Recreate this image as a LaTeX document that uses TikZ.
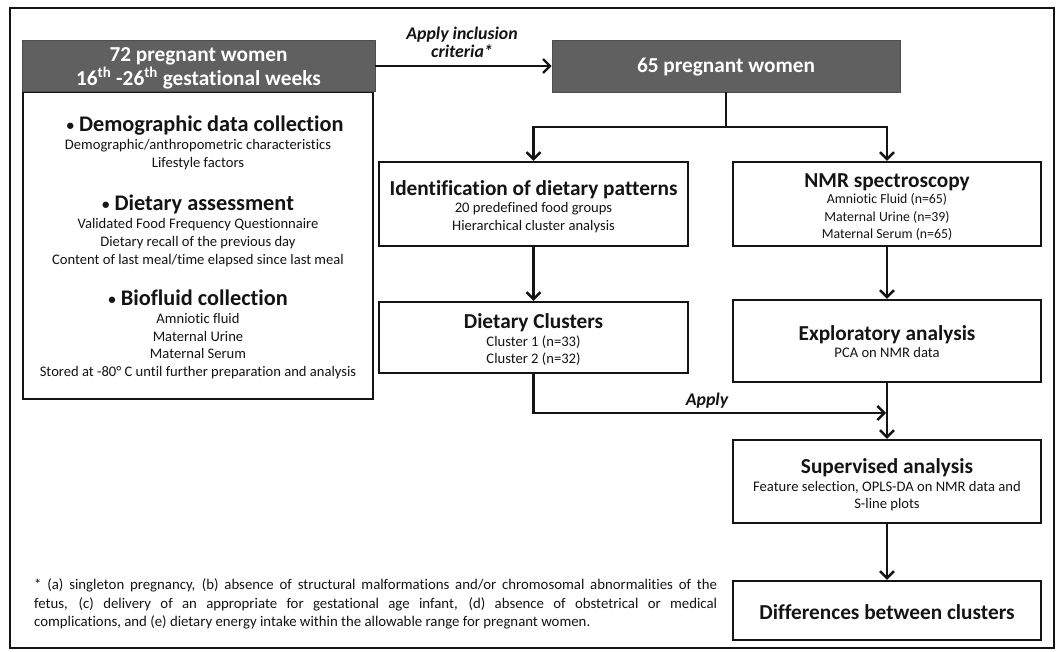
\documentclass[tikz,border=0pt]{standalone}
\usepackage{fontspec}
\setmainfont{Carlito}[Ligatures=NoCommon]
\usetikzlibrary{arrows.meta}
\definecolor{hdr}{RGB}{96,96,96}
\definecolor{ink}{RGB}{20,20,20}
\newcommand{\smbul}{{\fontsize{15}{15}\selectfont\raisebox{0.08em}{\textbullet}}}
\tikzset{
  box/.style={draw=ink, line width=2.3pt, fill=white, inner sep=0pt},
  hbox/.style={fill=hdr, draw=hdr!80!black, line width=0.6pt, inner sep=0pt},
  arr/.style={draw=ink, line width=2.4pt, -{Straight Barb[length=7pt,width=14pt]}},
  ln/.style={draw=ink, line width=2.4pt},
  ttl/.style={font=\fontsize{21.3}{25}\selectfont\bfseries, anchor=base, text=ink, inner sep=0pt},
  ltl/.style={font=\fontsize{22.3}{26}\selectfont\bfseries, anchor=base, text=ink, inner sep=0pt},
  subtxt/.style={font=\fontsize{14.6}{17}\selectfont, anchor=base, text=ink, inner sep=0pt},
  smalltxt/.style={font=\fontsize{13.8}{16}\selectfont, anchor=base, text=ink, inner sep=0pt},
  lbl/.style={font=\fontsize{17.8}{21}\selectfont\bfseries\itshape, anchor=base, text=ink, inner sep=0pt},
  foot/.style={font=\fontsize{14.8}{17}\selectfont, anchor=base west, text=ink, inner sep=0pt},
}
\begin{document}
\begin{tikzpicture}[x=1pt,y=-1pt]
\useasboundingbox (0,0) rectangle (1057,651);
\fill[white] (0,0) rectangle (1057,651);
% outer frame
\draw[ink, line width=1.6pt] (10,8) rectangle (1054,648);

% left column
\node[box, minimum width=350pt, minimum height=307pt] (left) at (198,245.5) {};
\node[hbox, minimum width=353pt, minimum height=51pt] (hdr) at (198.5,66) {};
\node[ttl, text=white] (h1) at (198.5,61) {72 pregnant women};
\node[ttl, text=white] (h2) at (198.5,85.5) {16\textsuperscript{th} -26\textsuperscript{th} gestational weeks};

\node[ltl] (t1) at (205,131.5) {\smbul\ Demographic data collection};
\node[subtxt] (s11) at (198,149.5) {Demographic/anthropometric characteristics};
\node[subtxt] (s12) at (198,167.5) {Lifestyle factors};
\node[ltl] (t2) at (198,210.5) {\smbul\ Dietary assessment};
\node[subtxt] (s21) at (198,228.8) {Validated Food Frequency Questionnaire};
\node[subtxt] (s22) at (198,246.8) {Dietary recall of the previous day};
\node[subtxt] (s23) at (198,264.2) {Content of last meal/time elapsed since last meal};
\node[ltl] (t3) at (198,305.5) {\smbul\ Biofluid collection};
\node[subtxt] (s31) at (198,323.5) {Amniotic fluid};
\node[subtxt] (s32) at (198,341.2) {Maternal Urine};
\node[subtxt] (s33) at (198,358.5) {Maternal Serum};
\node[subtxt] (s34) at (198,376.2) {Stored at -80° C until further preparation and analysis};

% 65 women
\node[hbox, minimum width=348pt, minimum height=52pt] (p65) at (726,66) {};
\node[ttl, text=white] (p65t) at (726,72.5) {65 pregnant women};
\draw[arr] (hdr.east) -- (p65.west);
\node[lbl] (inc1) at (462,39.5) {Apply inclusion};
\node[lbl] (inc2) at (462,57) {criteria*};

% second row
\node[box, minimum width=309pt, minimum height=84pt] (ident) at (533.5,204) {};
\node[ttl] (it) at (533.5,195.5) {Identification of dietary patterns};
\node[subtxt] (i1) at (533.5,212.5) {20 predefined food groups};
\node[subtxt] (i2) at (533.5,230.5) {Hierarchical cluster analysis};

\node[box, minimum width=308pt, minimum height=84pt] (nmr) at (887,204) {};
\node[ttl] (nt) at (887,187.5) {NMR spectroscopy};
\node[smalltxt] (n1) at (887,203.5) {Amniotic Fluid (n=65)};
\node[smalltxt] (n2) at (887,221.5) {Maternal Urine (n=39)};
\node[smalltxt] (n3) at (887,238.5) {Maternal Serum (n=65)};

\coordinate (split) at (726,127);
\draw[ln] (p65.south) -- (split);
\draw[arr] (split) -| (ident.north);
\draw[arr] (split) -| (nmr.north);

% third row
\node[box, minimum width=309pt, minimum height=71pt] (clust) at (533.5,337.5) {};
\node[ttl] (ct) at (533.5,328.5) {Dietary Clusters};
\node[subtxt] (c1) at (533.5,346.5) {Cluster 1 (n=33)};
\node[subtxt] (c2) at (533.5,363.5) {Cluster 2 (n=32)};

\node[box, minimum width=308pt, minimum height=82pt] (expl) at (887,341) {};
\node[ttl] (et) at (887,340.5) {Exploratory analysis};
\node[subtxt] (e1) at (887,357.5) {PCA on NMR data};

\draw[arr] (ident.south) -- (clust.north);
\draw[arr] (nmr.south) -- (expl.north);

% supervised
\node[box, minimum width=308pt, minimum height=83pt] (sup) at (887,481.5) {};
\node[ttl] (st) at (887,473.5) {Supervised analysis};
\node[subtxt] (u1) at (887,491.5) {Feature selection, OPLS-DA on NMR data and};
\node[subtxt] (u2) at (887,508.5) {S-line plots};
\draw[arr] (expl.south) -- (sup.north);

\coordinate (applyend) at (886,413);
\draw[arr] (clust.south) |- (applyend);
\node[lbl] (applyl) at (707,405.5) {Apply};

% differences
\node[box, minimum width=308pt, minimum height=59pt] (diff) at (887,610.5) {};
\node[ttl] (dt) at (887,619) {Differences between clusters};
\draw[arr] (sup.south) -- (diff.north);

% footnote
\node[foot] (f1) at (34,589.5) {\makebox[683pt][s]{* (a) singleton pregnancy, (b) absence of structural malformations and/or chromosomal abnormalities of the}};
\node[foot] (f2) at (34,608.5) {\makebox[683pt][s]{fetus, (c) delivery of an appropriate for gestational age infant, (d) absence of obstetrical or medical}};
\node[foot] (f3) at (34,626.5) {complications, and (e) dietary energy intake within the allowable range for pregnant women.};
\end{tikzpicture}
\end{document}
